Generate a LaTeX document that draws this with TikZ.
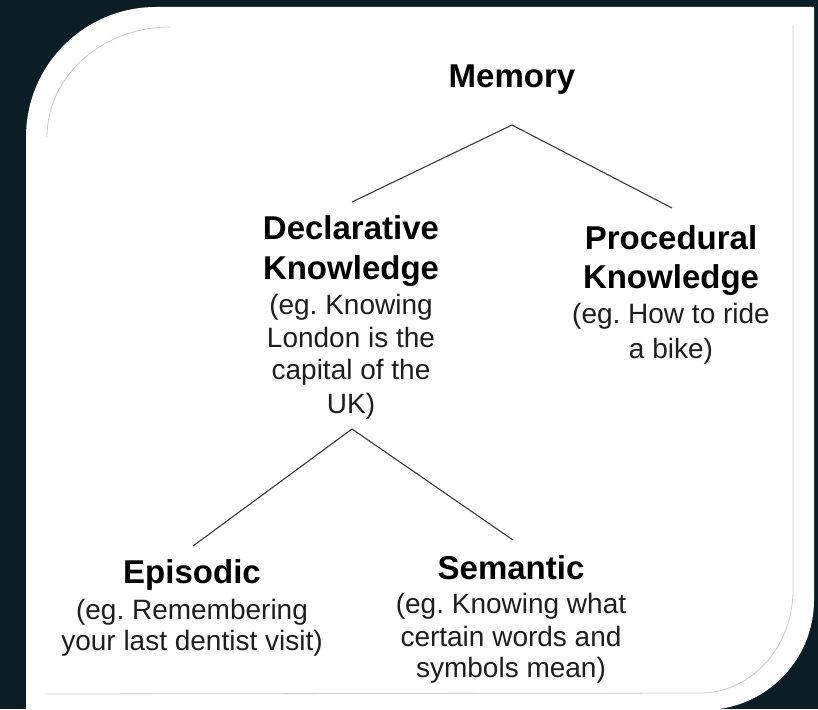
\documentclass[tikz,border=0pt]{standalone}
\usepackage{fontspec}
\setmainfont{Liberation Sans}
\frenchspacing
\definecolor{bgdark}{HTML}{0B1E25}
\definecolor{framegrey}{HTML}{CDCDCD}
\definecolor{linegrey}{HTML}{3A3A3A}
\definecolor{textgrey}{HTML}{1E1E1E}
\newcommand{\hd}[1]{{\fontsize{33}{33}\selectfont\bfseries\color{black}#1}}
\begin{document}
\begin{tikzpicture}[x=1pt,y=-1pt,
  headtxt/.style={font=\fontsize{33}{33}\selectfont\bfseries, text=black, inner sep=0pt},
  blk/.style={align=center, inner sep=0pt, anchor=north, font=\fontsize{28}{32}\selectfont\frenchspacing, text=textgrey},
  link/.style={draw=linegrey, line width=1.1pt},
  frameline/.style={draw=framegrey, line width=0.8pt}]
\useasboundingbox (0,0) rectangle (818,709);
\fill[bgdark] (0,0) rectangle (818,709);
% white card
\fill[white] (26,709) -- (26,137) arc[start angle=180, end angle=270, radius=130]
  -- (814,7) -- (814,600) arc[start angle=0, end angle=90, radius=110] -- cycle;
% faint inner frame
\draw[frameline] (47,137) arc[start angle=180, end angle=270, x radius=123, y radius=110];
\draw[frameline] (793,25) -- (793,590) arc[start angle=0, end angle=90, x radius=93, y radius=103] -- (47,694);
% texts
\node[headtxt, anchor=base] (mem) at (512,87) {Memory};
\node[blk] (decl) at (351,215.5) {\hd{Declarative}\\[8pt]
  \hd{Knowledge}\\[3pt]
  (eg. Knowing\\[0.5pt] London is the\\[0.5pt] capital of the\\[1.5pt] UK)};
\node[blk] (proc) at (671,225) {\hd{Procedural}\\[7pt]
  \hd{Knowledge}\\[3pt]
  (eg. How to ride\\[3pt] a bike)};
\node[blk] (epi) at (192,559) {\hd{Episodic}\\[4pt]
  (eg. Remembering\\[-1pt] your last dentist visit)};
\node[blk] (sem) at (511,555.5) {\hd{Semantic}\\[2pt]
  (eg. Knowing what\\[1pt] certain words and\\[-1pt] symbols mean)};
% connector points
\coordinate (memjoin) at (512,125);
\coordinate (declend) at (352,202);
\coordinate (procend) at (672,208);
\coordinate (decljoin) at (352,429);
\coordinate (epiend) at (193,546);
\coordinate (semend) at (513,540);
\draw[link] (declend) -- (memjoin) -- (procend);
\draw[link] (epiend) -- (decljoin) -- (semend);
\end{tikzpicture}
\end{document}
